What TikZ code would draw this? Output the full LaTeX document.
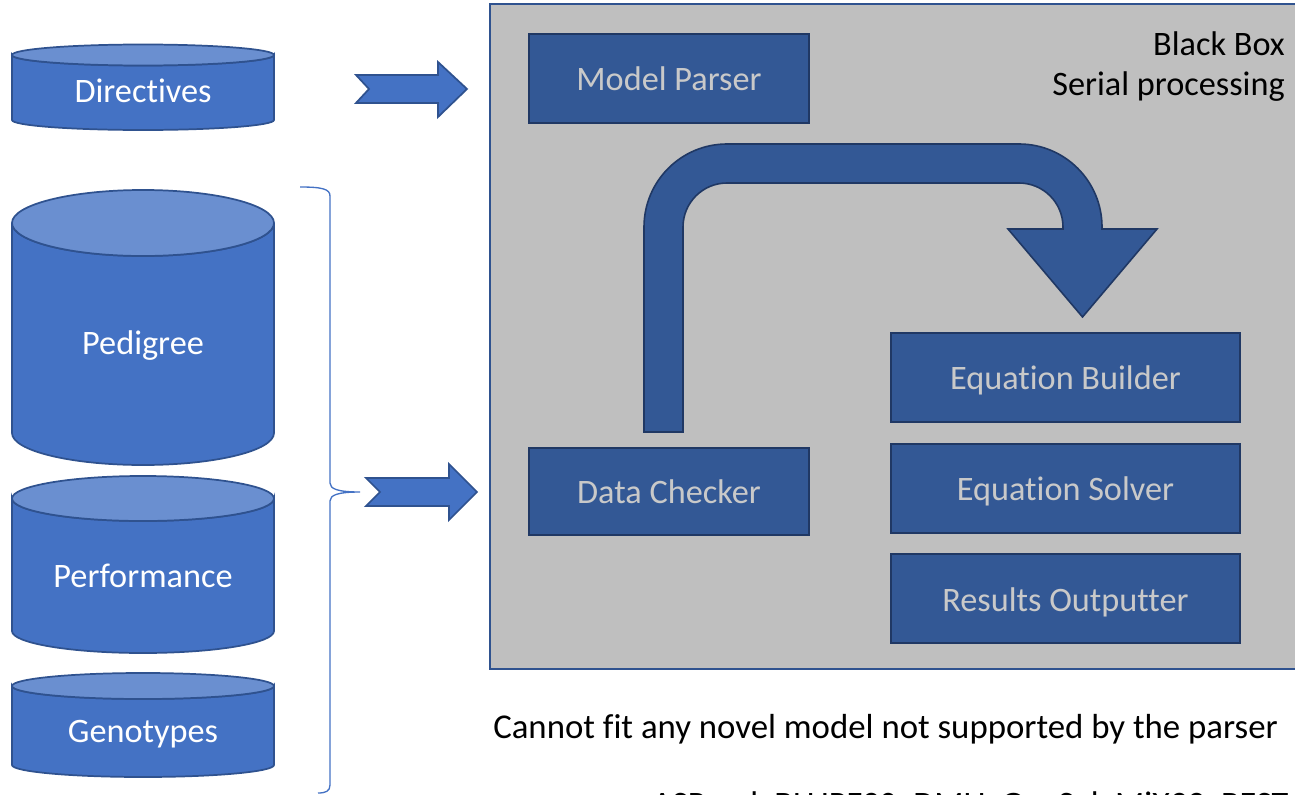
\documentclass[tikz,border=0pt]{standalone}
\usepackage{fontspec}
\setmainfont[Ligatures=NoCommon]{Carlito}
\definecolor{cylblue}{HTML}{4472C4}
\definecolor{cyltop}{HTML}{6A8FD0}
\definecolor{edgeblue}{HTML}{2F528F}
\definecolor{boxgray}{HTML}{BFBFBF}
\definecolor{procblue}{HTML}{335895}
\definecolor{procedge}{HTML}{203864}
\definecolor{proctext}{HTML}{C9C9C9}
\begin{document}
\begin{tikzpicture}[x=0.75pt,y=-0.75pt,
  cylbody/.style={fill=cylblue, draw=edgeblue, line width=1.3pt},
  cyltopst/.style={fill=cyltop, draw=edgeblue, line width=1.3pt},
  blockarrow/.style={fill=cylblue, draw=edgeblue, line width=1.3pt, line join=miter},
  bigtxt/.style={font=\fontsize{25.7}{31}\selectfont, inner sep=0pt},
  cyltxt/.style={bigtxt, text=white, anchor=base},
  procbox/.style={fill=procblue, draw=procedge, line width=1.5pt, inner sep=0pt},
  proctxt/.style={bigtxt, text=proctext, anchor=base},
  bentarrow/.style={fill=procblue, draw=procedge, line width=1.2pt, line join=miter},
  brace/.style={draw=cylblue, line width=1pt}
]
\useasboundingbox (0,0) rectangle (1295,795);

% black box
\filldraw[fill=boxgray, draw=edgeblue, line width=1.5pt] (490,4) rectangle (1320,669);
\node[bigtxt, anchor=base east] (bb1) at (1285,56) {Black Box};
\node[bigtxt, anchor=base east] (bb2) at (1285,96) {Serial processing};

% cylinders
% Directives
\filldraw[cylbody] (12,55) -- (12,120) arc (180:0:131 and 10) -- (274,55) arc (0:180:131 and 10.5) -- cycle;
\filldraw[cyltopst] (143,55) ellipse (131 and 10.5);
\node[cyltxt] (dir) at (143,103) {Directives};
% Pedigree
\filldraw[cylbody] (12,223) -- (12,433) arc (180:0:131 and 32) -- (274,223) arc (0:180:131 and 33) -- cycle;
\filldraw[cyltopst] (143,223) ellipse (131 and 33);
\node[cyltxt] (ped) at (143,354) {Pedigree};
% Performance
\filldraw[cylbody] (12,498.5) -- (12,631) arc (180:0:131 and 22) -- (274,498.5) arc (0:180:131 and 22.5) -- cycle;
\filldraw[cyltopst] (143,498.5) ellipse (131 and 22.5);
\node[cyltxt] (perf) at (143,587) {Performance};
% Genotypes
\filldraw[cylbody] (12,686) -- (12,765) arc (180:0:131 and 12) -- (274,686) arc (0:180:131 and 13) -- cycle;
\filldraw[cyltopst] (143,686) ellipse (131 and 13);
\node[cyltxt] (geno) at (143,742) {Genotypes};

% brace
\draw[brace] (300,187) .. controls (322,187) and (330,189) .. (330,196) -- (330,483)
  .. controls (330,489) and (338,492) .. (360,492)
  .. controls (338,492) and (330,495) .. (330,501) -- (330,785)
  .. controls (330,791) and (326,793) .. (318,793);

% block arrows
\filldraw[blockarrow] (356,75) -- (438,75) -- (438,62) -- (467,89) -- (438,117) -- (438,103) -- (356,103) -- (369,89) -- cycle;
\filldraw[blockarrow] (366,478) -- (449,478) -- (449,464) -- (477,492) -- (449,520) -- (449,506) -- (366,506) -- (380,492) -- cycle;

% bent arrow
\filldraw[bentarrow] (644,432) -- (644,227) arc (180:270:83) -- (1019,144) arc (270:360:83)
  -- (1102,229) -- (1157,229) -- (1082.5,317) -- (1008,229) -- (1063,229) -- (1063,227)
  arc (0:-90:44) -- (727,183) arc (-90:-180:44) -- (683,432) -- cycle;

% process boxes
\node[procbox, minimum width=210pt, minimum height=66.75pt] (mp) at (669,78.5) {};
\node[proctxt] (mpt) at (669,91) {Model Parser};
\node[procbox, minimum width=210pt, minimum height=65.25pt] (dc) at (669,491.5) {};
\node[proctxt] (dct) at (669,503) {Data Checker};
\node[procbox, minimum width=261.75pt, minimum height=66.75pt] (eb) at (1065.5,377.5) {};
\node[proctxt] (ebt) at (1065.5,389) {Equation Builder};
\node[procbox, minimum width=261.75pt, minimum height=66.75pt] (es) at (1065.5,488.5) {};
\node[proctxt] (est) at (1065.5,500) {Equation Solver};
\node[procbox, minimum width=261.75pt, minimum height=66.75pt] (ro) at (1065.5,598.5) {};
\node[proctxt] (rot) at (1065.5,611) {Results Outputter};

% bottom texts
\node[bigtxt, font=\fontsize{26.1}{31}\selectfont, anchor=base west] (cf) at (493,738) {Cannot fit any novel model not supported by the parser};
\begin{scope}
\clip (0,0) rectangle (1295,795);
\node[bigtxt, anchor=base west] (sw) at (652,815) {ASReml, BLUPF90, DMU, GenSel, MiX99, BEST};
\end{scope}
\end{tikzpicture}
\end{document}
